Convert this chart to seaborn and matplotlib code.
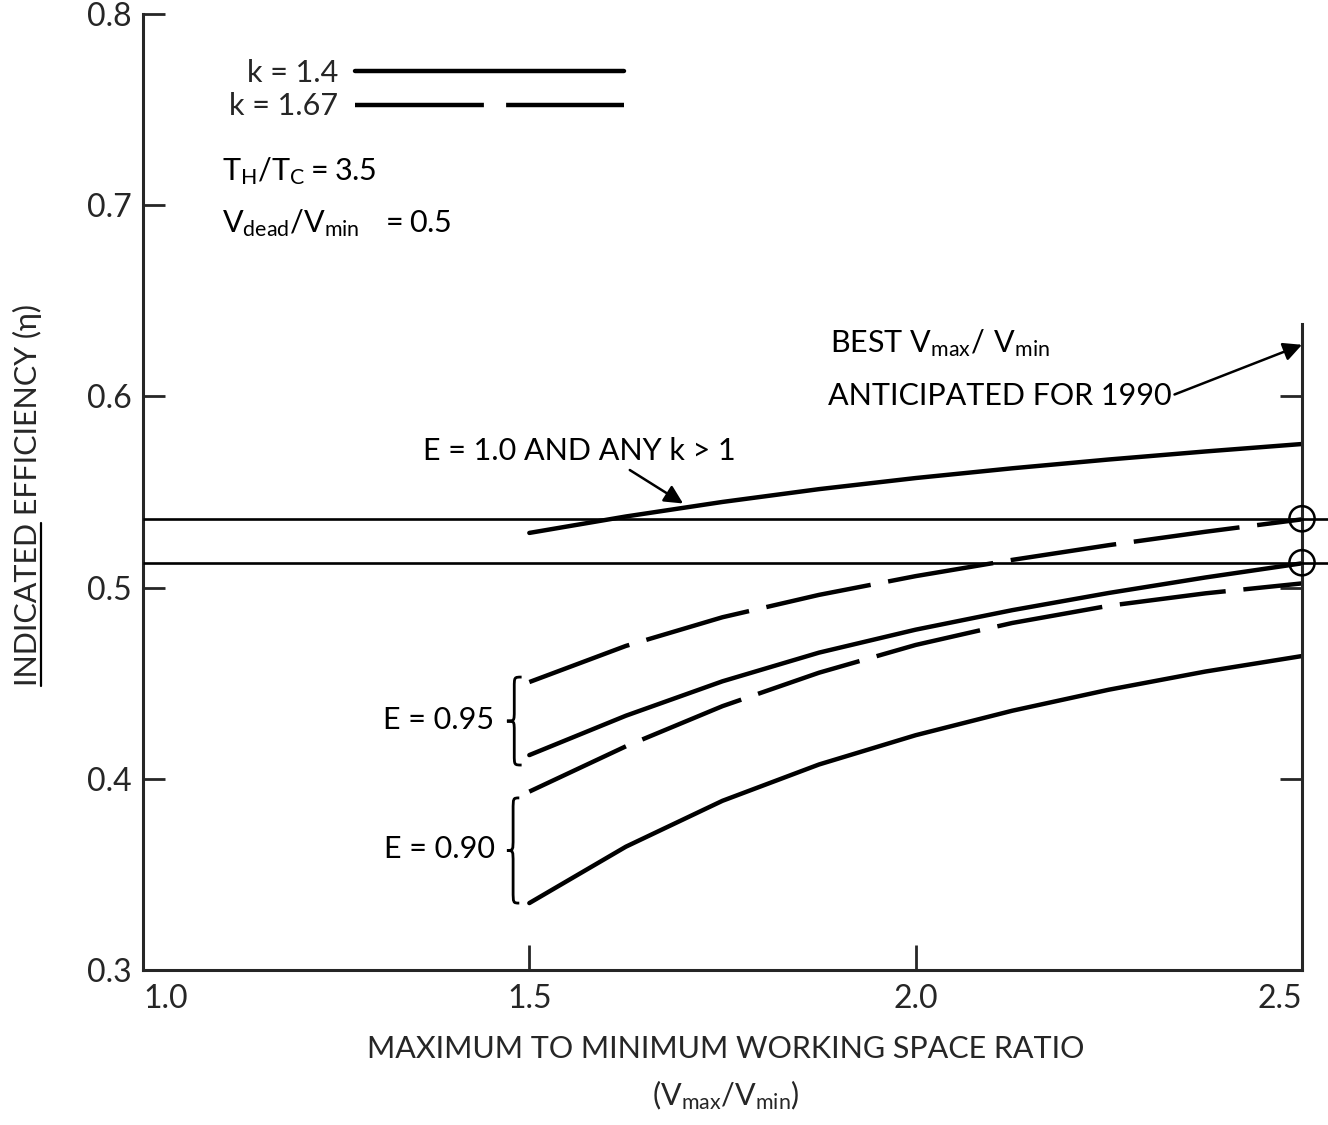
import numpy as np
import pandas as pd
import seaborn as sns
import matplotlib.pyplot as plt
from matplotlib.path import Path
from matplotlib.patches import PathPatch
from matplotlib.lines import Line2D

# ---- data -------------------------------------------------------------
ratio = [1.5, 1.625, 1.75, 1.875, 2.0, 2.125, 2.25, 2.375, 2.5]
eff_E100 = [0.5286, 0.5372, 0.5448, 0.5515, 0.5573, 0.5624, 0.5670, 0.5712, 0.5751]
eff_E095_k167 = [0.4506, 0.4695, 0.4845, 0.4962, 0.5060, 0.5145, 0.5222, 0.5292, 0.5357]
eff_E095_k140 = [0.4124, 0.4330, 0.4510, 0.4660, 0.4780, 0.4882, 0.4972, 0.5053, 0.5127]
eff_E090_k167 = [0.3933, 0.4170, 0.4380, 0.4555, 0.4700, 0.4815, 0.4905, 0.4970, 0.5022]
eff_E090_k140 = [0.3350, 0.3645, 0.3885, 0.4075, 0.4228, 0.4356, 0.4466, 0.4561, 0.4642]
ref_levels = [0.536, 0.513]
best_ratio = 2.5
x_ticks = [1.0, 1.5, 2.0, 2.5]
x_ticklabels = ["1.0", "1.5", "2.0", "2.5"]
y_ticks = [0.3, 0.4, 0.5, 0.6, 0.7, 0.8]
y_ticklabels = ["0.3", "0.4", "0.5", "0.6", "0.7", "0.8"]
k_labels = ["k = 1.4", "k = 1.67"]

curves = [
    ("E=1.00", k_labels[0], eff_E100),
    ("E=0.95 k1.67", k_labels[1], eff_E095_k167),
    ("E=0.95 k1.4", k_labels[0], eff_E095_k140),
    ("E=0.90 k1.67", k_labels[1], eff_E090_k167),
    ("E=0.90 k1.4", k_labels[0], eff_E090_k140),
]
df = pd.concat(
    [pd.DataFrame({"ratio": ratio, "eff": vals, "curve": name, "k": k})
     for name, k, vals in curves],
    ignore_index=True,
)

# ---- style ------------------------------------------------------------
sns.set_style("ticks")
plt.rcParams["font.family"] = ["Lato", "DejaVu Sans"]
plt.rcParams["mathtext.default"] = "regular"
FS = 22

fig = plt.figure(figsize=(13.28, 11.25), dpi=100)
ax = fig.add_axes([143 / 1328, 1 - 970 / 1125, 1159 / 1328, 956 / 1125])

LW = 3.2
sns.lineplot(
    data=df, x="ratio", y="eff", units="curve", estimator=None,
    style="k", style_order=k_labels,
    dashes={k_labels[0]: "", k_labels[1]: (24, 4)},
    color="black", lw=LW, ax=ax,
)

# reference efficiency levels at the best anticipated ratio
ax.hlines(ref_levels, 1.0, 2.534, color="black", lw=1.9, clip_on=False, zorder=3)
ax.scatter([best_ratio] * len(ref_levels), ref_levels, s=330,
           facecolors="none", edgecolors="black", linewidths=1.8,
           clip_on=False, zorder=4)

# ---- axes -------------------------------------------------------------
ax.set_xlim(1.0, 2.5)
ax.set_ylim(0.3, 0.8)
ax.set_xticks(x_ticks)
ax.set_xticklabels(x_ticklabels)
ax.set_yticks(y_ticks)
ax.set_yticklabels(y_ticklabels)
ax.set_xlabel("")
ax.set_ylabel("")

for side in ["left", "bottom", "right"]:
    ax.spines[side].set_linewidth(2.2)
ax.spines["top"].set_visible(False)
ax.spines["right"].set_bounds(0.3, 0.638)

ax.tick_params(axis="y", direction="in", length=16, width=2, labelsize=23,
               pad=8, right=True, labelright=False)
ax.tick_params(axis="x", direction="in", length=18, width=2, labelsize=23,
               pad=10)
for t in ax.yaxis.get_major_ticks():
    if t.get_loc() > 0.65:
        t.tick2line.set_visible(False)
xl = ax.get_xticklabels()
xl[0].set_ha("left")
xl[-1].set_ha("right")

# ---- legend -----------------------------------------------------------
handles, labels = ax.get_legend_handles_labels()
for h, lab in zip(handles, labels):
    h.set_linewidth(LW)
    h.set_color("black")
    if lab == k_labels[1]:
        h.set_dashes((29, 5))
ax.legend(handles, labels, loc="upper left", bbox_to_anchor=(0.074, 0.953),
          frameon=False, markerfirst=False, fontsize=FS, handlelength=8.8,
          handletextpad=0.55, labelspacing=0.18, borderpad=0, borderaxespad=0)

# ---- annotations -------------------------------------------------------
TXT = dict(fontsize=FS, color="black")
ax.text(1.102, 0.713, r"$T_H/T_C = 3.5$", **TXT)
ax.text(1.102, 0.686, r"$V_{dead}/V_{min}\ \ = 0.5$", **TXT)

ax.text(1.889, 0.623, r"BEST $V_{max}/\ V_{min}$", **TXT)
ax.text(1.886, 0.5955, "ANTICIPATED FOR 1990", **TXT)
ax.annotate("", xy=(2.5, 0.627), xytext=(2.335, 0.601),
            arrowprops=dict(arrowstyle="-|>", color="black", lw=1.8,
                            mutation_scale=28, shrinkA=0, shrinkB=0))

ax.text(1.362, 0.5667, "E = 1.0 AND ANY k > 1", **TXT)
ax.annotate("", xy=(1.699, 0.544), xytext=(1.630, 0.5615),
            arrowprops=dict(arrowstyle="-|>", color="black", lw=1.8,
                            mutation_scale=28, shrinkA=0, shrinkB=0))

ax.text(1.455, 0.4308, "E = 0.95", ha="right", va="center", **TXT)
ax.text(1.455, 0.3633, "E = 0.90", ha="right", va="center", **TXT)


def draw_brace(ax, x_tip, width, y_lo, y_hi):
    xm = x_tip + width * 0.5
    xr = x_tip + width
    ym = (y_lo + y_hi) / 2
    q = (y_hi - y_lo) * 0.12
    verts = [(xr, y_hi), (xm, y_hi), (xm, y_hi), (xm, y_hi - q),
             (xm, ym + q),
             (xm, ym), (xm, ym), (x_tip, ym),
             (xm, ym), (xm, ym), (xm, ym - q),
             (xm, y_lo + q),
             (xm, y_lo), (xm, y_lo), (xr, y_lo)]
    codes = [Path.MOVETO, Path.CURVE4, Path.CURVE4, Path.CURVE4,
             Path.LINETO,
             Path.CURVE4, Path.CURVE4, Path.CURVE4,
             Path.CURVE4, Path.CURVE4, Path.CURVE4,
             Path.LINETO,
             Path.CURVE4, Path.CURVE4, Path.CURVE4]
    ax.add_patch(PathPatch(Path(verts, codes), fc="none", ec="black",
                           lw=2.0, clip_on=False))


draw_brace(ax, 1.471, 0.019, 0.4072, 0.4532)
draw_brace(ax, 1.471, 0.016, 0.335, 0.390)

# ---- axis titles -------------------------------------------------------
ylab = fig.text(27 / 1328, 1 - 495 / 1125, "INDICATED EFFICIENCY (\u03b7)",
                rotation=90, ha="center", va="center", fontsize=FS)
fig.text(726 / 1328, 1 - 1049 / 1125, "MAXIMUM TO MINIMUM WORKING SPACE RATIO",
         ha="center", va="center", fontsize=FS)
fig.text(726 / 1328, 1 - 1095 / 1125, r"($V_{max}/V_{min}$)",
         ha="center", va="center", fontsize=FS)

# underline the first word of the vertical title
fig.canvas.draw()
renderer = fig.canvas.get_renderer()
bb = ylab.get_window_extent(renderer)
probe = fig.text(0, 0, "INDICATED", fontsize=FS)
word_len = probe.get_window_extent(renderer).width
probe.remove()
W, H = fig.bbox.width, fig.bbox.height
ux = (bb.x1 - 1) / W
fig.add_artist(Line2D([ux, ux], [bb.y0 / H, (bb.y0 + word_len) / H],
                      transform=fig.transFigure, color="black", lw=1.6))

fig.savefig("out.png", dpi=100)
